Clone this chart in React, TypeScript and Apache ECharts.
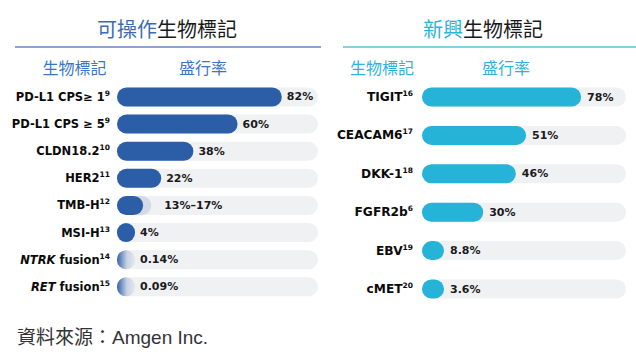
import React, { useEffect, useRef } from 'react';
import * as echarts from 'echarts';

const leftCategories = ['PD-L1 CPS≥ 1', 'PD-L1 CPS ≥ 5', 'CLDN18.2', 'HER2', 'TMB-H', 'MSI-H', 'NTRK fusion', 'RET fusion'];
const leftRefs = ['9', '9', '10', '11', '12', '13', '14', '15'];
const leftValues = [82, 60, 38, 22, 13, 4, 0.14, 0.09];
const leftUpperValues: (number | null)[] = [null, null, null, null, 17, null, null, null];
const leftValueLabels = ['82%', '60%', '38%', '22%', '13%–17%', '4%', '0.14%', '0.09%'];
const italicPrefixes = ['NTRK', 'RET'];

const rightCategories = ['TIGIT', 'CEACAM6', 'DKK-1', 'FGFR2b', 'EBV', 'cMET'];
const rightRefs = ['16', '17', '18', '6', '19', '20'];
const rightValues = [78, 51, 46, 30, 8.8, 3.6];
const rightValueLabels = ['78%', '51%', '46%', '30%', '8.8%', '3.6%'];

const trackMax = 100;

const LATIN = '"DejaVu Sans", sans-serif';
const CJK = '"Noto Sans CJK TC", sans-serif';
const BLUE = '#2c5ea8';
const CYAN = '#25b3d8';
const TRACK = '#f0f1f3';

const catLabel = (name: string, ref: string) => {
  const p = italicPrefixes.find((pr) => name.startsWith(pr + ' '));
  if (p) return `{i|${p}}{n|${name.slice(p.length)}}{s|${ref}}`;
  return `{n|${name}}{s|${ref}}`;
};

const makeRich = (size: number) => ({
  n: { fontFamily: LATIN, fontWeight: 'bold', fontSize: size, color: '#0a0a0a', lineHeight: 15 },
  i: { fontFamily: LATIN, fontWeight: 'bold', fontStyle: 'italic', fontSize: size, color: '#0a0a0a', lineHeight: 15 },
  s: { fontFamily: LATIN, fontWeight: 'bold', fontSize: 7.5, color: '#0a0a0a', verticalAlign: 'top' },
});

const valueLabelStyle = {
  fontFamily: LATIN,
  fontWeight: 'bold',
  fontSize: 11,
  color: '#1a1a1a',
};

export default function App() {
  const ref = useRef<HTMLDivElement>(null);
  useEffect(() => {
    if (!ref.current) return;
    const chart = echarts.init(ref.current, null, { renderer: 'svg' });

    const gradient = new echarts.graphic.LinearGradient(0, 0, 1, 0, [
      { offset: 0, color: '#3462aa' },
      { offset: 0.55, color: '#c9d1e3' },
      { offset: 1, color: '#e4e7ee' },
    ]);

    const leftMain = leftValues.map((v, i) => ({
      value: v,
      itemStyle: v < 1 ? { color: gradient } : undefined,
      label: leftUpperValues[i] != null ? { show: false } : undefined,
    }));

    const option: any = {
      animation: false,
      backgroundColor: '#ffffff',
      grid: [
        { left: 117, width: 201, top: 83.4, height: 217 },
        { left: 422, width: 204, top: 77.8, height: 230.4 },
      ],
      xAxis: [
        { type: 'value', gridIndex: 0, min: 0, max: trackMax, show: false },
        { type: 'value', gridIndex: 1, min: 0, max: trackMax, show: false },
      ],
      yAxis: [
        {
          type: 'category', gridIndex: 0, inverse: true, data: leftCategories,
          axisLine: { show: false }, axisTick: { show: false }, splitLine: { show: false },
          axisLabel: { margin: 7, formatter: (v: string, i: number) => catLabel(v, leftRefs[i]), rich: makeRich(11.5) },
        },
        {
          type: 'category', gridIndex: 1, inverse: true, data: rightCategories,
          axisLine: { show: false }, axisTick: { show: false }, splitLine: { show: false },
          axisLabel: { margin: 9, formatter: (v: string, i: number) => catLabel(v, rightRefs[i]), rich: makeRich(12.2) },
        },
      ],
      series: [
        {
          type: 'bar', xAxisIndex: 0, yAxisIndex: 0, silent: true,
          data: leftCategories.map(() => trackMax), barWidth: 19, barGap: '-100%',
          itemStyle: { color: TRACK, borderRadius: 9.5 },
        },
        {
          type: 'bar', xAxisIndex: 0, yAxisIndex: 0,
          data: leftUpperValues, barWidth: 19, barGap: '-100%',
          itemStyle: { color: '#d3d9e7', borderRadius: 9.5 },
          label: {
            show: true, position: 'right', distance: 13, ...valueLabelStyle,
            formatter: (p: any) => leftValueLabels[p.dataIndex],
          },
        },
        {
          type: 'bar', xAxisIndex: 0, yAxisIndex: 0,
          data: leftMain, barWidth: 19, barGap: '-100%', barMinHeight: 18,
          itemStyle: { color: BLUE, borderRadius: 9.5 },
          label: {
            show: true, position: 'right', distance: 5, ...valueLabelStyle,
            formatter: (p: any) => leftValueLabels[p.dataIndex],
          },
        },
        {
          type: 'bar', xAxisIndex: 1, yAxisIndex: 1, silent: true,
          data: rightCategories.map(() => trackMax), barWidth: 19, barGap: '-100%',
          itemStyle: { color: TRACK, borderRadius: 9.5 },
        },
        {
          type: 'bar', xAxisIndex: 1, yAxisIndex: 1,
          data: rightValues, barWidth: 19, barGap: '-100%', barMinHeight: 22,
          itemStyle: { color: CYAN, borderRadius: 9.5 },
          label: {
            show: true, position: 'right', distance: 6, ...valueLabelStyle,
            formatter: (p: any) => rightValueLabels[p.dataIndex],
          },
        },
      ],
      graphic: [
        {
          type: 'text', x: 167, y: 28,
          style: {
            text: '{a|可操作}{b|生物標記}', textAlign: 'center', textVerticalAlign: 'middle',
            align: 'center', verticalAlign: 'middle',
            rich: {
              a: { fontFamily: CJK, fontSize: 20, fill: '#3a6bb4', color: '#3a6bb4' },
              b: { fontFamily: CJK, fontSize: 20, fill: '#1a1a1a', color: '#1a1a1a' },
            },
          },
        },
        {
          type: 'text', x: 483, y: 28,
          style: {
            text: '{a|新興}{b|生物標記}', textAlign: 'center', textVerticalAlign: 'middle',
            align: 'center', verticalAlign: 'middle',
            rich: {
              a: { fontFamily: CJK, fontSize: 20, fill: '#2ab4da', color: '#2ab4da' },
              b: { fontFamily: CJK, fontSize: 20, fill: '#1a1a1a', color: '#1a1a1a' },
            },
          },
        },
        { type: 'line', shape: { x1: 15, y1: 47, x2: 321, y2: 47 }, style: { stroke: '#8ba5d0', lineWidth: 2 } },
        { type: 'line', shape: { x1: 343, y1: 47, x2: 636, y2: 47 }, style: { stroke: '#84d0e5', lineWidth: 2 } },
        { type: 'text', x: 74.5, y: 67, style: { text: '生物標記', font: `16px ${CJK}`, fill: '#3a76c6', textAlign: 'center', textVerticalAlign: 'middle' } },
        { type: 'text', x: 203, y: 67, style: { text: '盛行率', font: `16px ${CJK}`, fill: '#3a76c6', textAlign: 'center', textVerticalAlign: 'middle' } },
        { type: 'text', x: 382, y: 67, style: { text: '生物標記', font: `16px ${CJK}`, fill: '#2eb3dc', textAlign: 'center', textVerticalAlign: 'middle' } },
        { type: 'text', x: 506, y: 67, style: { text: '盛行率', font: `16px ${CJK}`, fill: '#2eb3dc', textAlign: 'center', textVerticalAlign: 'middle' } },
        { type: 'text', x: 17, y: 337, style: { text: '資料來源：Amgen Inc.', font: `19px "Liberation Sans", ${CJK}`, fill: '#333333', textAlign: 'left', textVerticalAlign: 'middle' } },
      ],
    };
    chart.setOption(option);
    return () => chart.dispose();
  }, []);
  return (
    <div
      ref={ref}
      style={{ position: 'fixed', left: 0, top: 0, width: 636, height: 352, background: '#fff' }}
    />
  );
}
